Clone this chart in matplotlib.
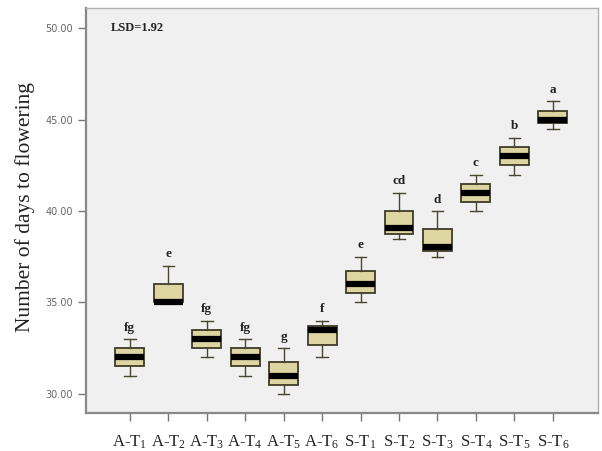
import matplotlib
matplotlib.use('Agg')
import matplotlib.pyplot as plt

# five-number summaries: (min, q1, median, q3, max)
etiquetas = ['A-T$_1$', 'A-T$_2$', 'A-T$_3$', 'A-T$_4$', 'A-T$_5$', 'A-T$_6$',
             'S-T$_1$', 'S-T$_2$', 'S-T$_3$', 'S-T$_4$', 'S-T$_5$', 'S-T$_6$']
minimos = [31.0, 35.0, 32.0, 31.0, 30.0, 32.0, 35.0, 38.5, 37.5, 40.0, 42.0, 44.5]
q1s = [31.5, 35.0, 32.5, 31.5, 30.5, 32.7, 35.5, 38.75, 37.8, 40.5, 42.5, 44.8]
medianas = [32.0, 35.0, 33.0, 32.0, 31.0, 33.5, 36.0, 39.1, 38.05, 41.0, 43.0, 45.0]
q3s = [32.5, 36.0, 33.5, 32.5, 31.75, 33.7, 36.7, 40.0, 39.0, 41.5, 43.5, 45.5]
maximos = [33.0, 37.0, 34.0, 33.0, 32.5, 34.0, 37.5, 41.0, 40.0, 42.0, 44.0, 46.0]
letras = ['fg', 'e', 'fg', 'fg', 'g', 'f', 'e', 'cd', 'd', 'c', 'b', 'a']

plt.rcParams['font.family'] = ['Liberation Serif', 'DejaVu Serif']
plt.rcParams['mathtext.fontset'] = 'custom'
plt.rcParams['mathtext.rm'] = 'Liberation Serif'
plt.rcParams['mathtext.it'] = 'Liberation Serif'
plt.rcParams['mathtext.default'] = 'rm'

fig = plt.figure(figsize=(6.02, 4.51), dpi=100)
ax = fig.add_axes([0.143, 0.084, 0.85, 0.898])
ax.set_facecolor('#f0f0f0')

stats = []
for i in range(len(etiquetas)):
    stats.append({'whislo': minimos[i], 'q1': q1s[i], 'med': medianas[i],
                  'q3': q3s[i], 'whishi': maximos[i], 'fliers': []})

posiciones = list(range(1, len(etiquetas) + 1))
ax.bxp(stats, positions=posiciones, widths=0.75, patch_artist=True,
       showfliers=False,
       boxprops=dict(facecolor='#ddd5a2', edgecolor='#3e3b28', linewidth=1.3),
       medianprops=dict(color='black', linewidth=4.5, solid_capstyle='butt'),
       whiskerprops=dict(color='#4a4530', linewidth=1.0),
       capprops=dict(color='#4a4530', linewidth=1.0),
       capwidths=0.3)

for x, top, letra in zip(posiciones, maximos, letras):
    ax.text(x, top + 0.3, letra, ha='center', va='bottom', fontsize=9.5,
            fontweight='bold', color='#222222')

ax.text(0.5, 50.0, 'LSD=1.92', ha='left', va='center', fontsize=9,
        fontweight='bold', color='#222222')

ax.set_xlim(-0.14, 13.17)
ax.set_ylim(28.95, 51.1)
ax.set_yticks([30, 35, 40, 45, 50])
ax.set_yticklabels(['30.00', '35.00', '40.00', '45.00', '50.00'],
                   fontsize=7, color='#666666', family=['DejaVu Sans'])
ax.set_xticks(posiciones)
ax.set_xticklabels(etiquetas, fontsize=12, color='#222222')
ax.tick_params(axis='y', direction='out', length=6, color='#777777', width=1)
ax.tick_params(axis='x', direction='out', length=6, color='#777777',
               width=1, pad=9)

fig.text(25 / 602, 0.54, 'Number of days to flowering', rotation=90,
         ha='center', va='center', fontsize=15.5, color='#222222')

for lado in ['left', 'bottom']:
    ax.spines[lado].set_color('#888888')
    ax.spines[lado].set_linewidth(1.6)
for lado in ['top', 'right']:
    ax.spines[lado].set_color('#b0b0b0')
    ax.spines[lado].set_linewidth(1.0)

fig.savefig('out.png', dpi=100)
